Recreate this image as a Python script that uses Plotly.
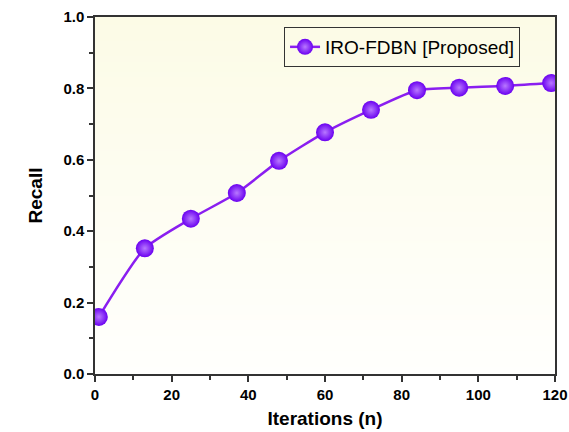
import plotly.graph_objects as go

iterations = [1, 13, 25, 37, 48, 60, 72, 84, 95, 107, 119]
recall = [0.16, 0.352, 0.435, 0.507, 0.597, 0.677, 0.74, 0.795, 0.802, 0.807, 0.815]
series_name = "IRO-FDBN [Proposed]"
x_ticks = [0, 20, 40, 60, 80, 100, 120]
y_ticks = [0.0, 0.2, 0.4, 0.6, 0.8, 1.0]

FONT = "Liberation Sans, Arial, sans-serif"

fig = go.Figure()

# background gradient (yellowish top -> white bottom)
fig.add_trace(go.Heatmap(
    x=[0, 120], y=[0, 1], z=[[0, 0], [1, 1]],
    colorscale=[[0, "#fffffd"], [1, "#fcfbe6"]],
    zsmooth="best", showscale=False, hoverinfo="skip", showlegend=False,
))

fig.add_trace(go.Scatter(
    x=iterations, y=recall, mode="lines+markers", name=series_name,
    line=dict(color="#8a1ef0", width=2.5, shape="spline", smoothing=0.6),
    marker=dict(size=18, color="#6a00f0",
                gradient=dict(type="radial", color="#b878ff"),
                line=dict(width=0)),
))

fig.update_layout(
    width=569, height=432,
    paper_bgcolor="white", plot_bgcolor="white",
    margin=dict(l=95, r=14, t=17, b=58, autoexpand=False),
    showlegend=True,
    legend=dict(x=0.924, y=0.972, xanchor="right", yanchor="top",
                bgcolor="rgba(255,255,255,0)", bordercolor="#333333", borderwidth=1,
                font=dict(family=FONT, size=19, color="black"),
                itemwidth=30, tracegroupgap=0),
    font=dict(family=FONT, size=14, color="black"),
)
fig.update_xaxes(
    range=[0, 120], tickvals=x_ticks, ticks="outside", ticklen=6, tickwidth=1.5,
    tickcolor="#333", showline=True, linecolor="#333", linewidth=1.5, mirror=True,
    showgrid=False, zeroline=False, automargin=False,
    minor=dict(ticks="outside", ticklen=4, tickcolor="#333", dtick=10, showgrid=False),
    tickfont=dict(family=FONT, size=15, color="black", weight="bold"),
    title=dict(text="<b>Iterations (n)</b>", font=dict(size=19, family=FONT), standoff=10),
)
fig.update_yaxes(
    range=[0, 1], tickvals=y_ticks, tickformat=".1f", ticks="outside", ticklen=6, tickwidth=1.5,
    tickcolor="#333", showline=True, linecolor="#333", linewidth=1.5, mirror=True,
    showgrid=False, zeroline=False, automargin=False,
    minor=dict(ticks="outside", ticklen=4, tickcolor="#333", dtick=0.1, showgrid=False),
    tickfont=dict(family=FONT, size=15, color="black", weight="bold"),
    title=dict(text="<b>Recall</b>", font=dict(size=19, family=FONT), standoff=16),
)

fig.write_html("out.html", config={"displayModeBar": False},
               post_script="document.body.style.margin='0';")
